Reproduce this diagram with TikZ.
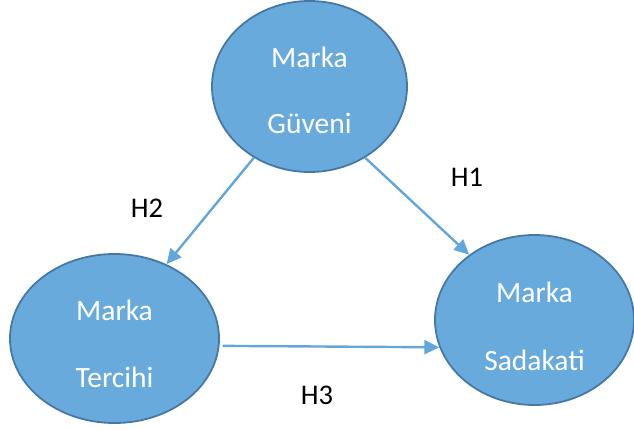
\documentclass[tikz,border=0pt]{standalone}
\usepackage{fontspec}
\setmainfont{Carlito}
\usetikzlibrary{arrows.meta,shapes.geometric}
\definecolor{efill}{RGB}{104,170,220}
\definecolor{eborder}{RGB}{70,120,166}
\definecolor{arrowc}{RGB}{98,166,220}
\tikzset{
  construct/.style={ellipse, draw=eborder, line width=1.8pt, fill=efill, inner sep=0pt},
  ctext/.style={text=white, font=\fontsize{29.5}{34}\selectfont, inner sep=0pt},
  path/.style={draw=arrowc, line width=2.4pt, -{Triangle[length=15pt,width=14pt]}},
  hyp/.style={font=\fontsize{28.5}{32}\selectfont, text=black, inner sep=0pt}
}
\begin{document}
\begin{tikzpicture}[x=1pt,y=-1pt]
\useasboundingbox (0,0) rectangle (634,429);
\node[construct, minimum width=195pt, minimum height=171pt] (top) at (309.5,86.5) {};
\node[construct, minimum width=209pt, minimum height=169pt] (left) at (114.5,338.5) {};
\node[construct, minimum width=199pt, minimum height=170pt] (right) at (534.5,320) {};
\node[ctext] (t1) at (309.5,57) {Marka};
\node[ctext] (t2) at (309.5,123) {Güveni};
\node[ctext] (l1) at (114.5,310) {Marka};
\node[ctext] (l2) at (114.5,377) {Tercihi};
\node[ctext] (r1) at (534.5,292) {Marka};
\node[ctext] (r2) at (534.5,360) {Sadakati};
\draw[path] (top.232.3) -- (left.55);
\draw[path] (top.308.7) -- (right.135.7);
\draw[path, shorten <=3pt] (left.-4.5) -- (right.196.5);
\node[hyp] (h1) at (467,177) {H1};
\node[hyp] (h2) at (147,208) {H2};
\node[hyp] (h3) at (317,395) {H3};
\end{tikzpicture}
\end{document}
